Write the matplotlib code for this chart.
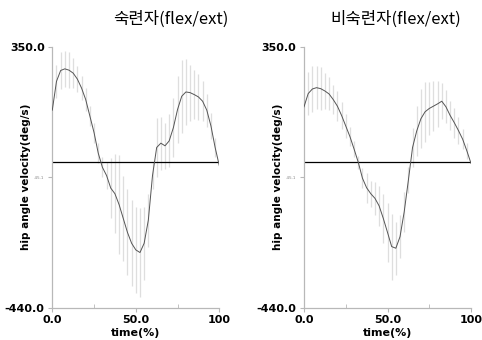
import matplotlib
matplotlib.use('Agg')
import matplotlib.pyplot as plt
import numpy as np

# time points (% of cycle)
time_pct = [0, 2.5, 5, 7.5, 10, 12.5, 15, 17.5, 20, 22.5, 25, 27.5, 30, 32.5, 35, 37.5, 40,
            42.5, 45, 47.5, 50, 52.5, 55, 57.5, 60, 62.5, 65, 67.5, 70, 72.5, 75, 77.5, 80,
            82.5, 85, 87.5, 90, 92.5, 95, 97.5, 100]

# skilled group (숙련자) mean / sd
skilled_mean = [158, 245, 278, 283, 279, 270, 252, 225, 190, 140, 90, 28, -15, -40, -78, -95, -128,
                -170, -212, -245, -265, -273, -245, -175, -40, 45, 58, 50, 65, 105, 160, 200, 213,
                211, 205, 198, 185, 158, 110, 45, -10]
skilled_sd = [0, 50, 55, 55, 55, 45, 40, 35, 35, 30, 30, 30, 30, 40, 90, 120, 150,
              130, 130, 130, 130, 135, 110, 80, 40, 90, 80, 70, 80, 90, 100, 110, 100,
              85, 75, 70, 60, 50, 40, 30, 0]

# unskilled group (비숙련자) mean / sd
unskilled_mean = [168, 208, 222, 226, 223, 216, 207, 190, 170, 142, 110, 78, 40, 0, -48, -77, -95,
                  -109, -132, -170, -212, -255, -260, -225, -150, -54, 45, 95, 132, 153, 163, 170, 177,
                  185, 168, 142, 120, 96, 70, 35, -3]
unskilled_sd = [0, 65, 70, 65, 65, 55, 50, 45, 45, 40, 35, 30, 25, 20, 30, 45, 40,
                50, 60, 75, 90, 100, 80, 65, 60, 40, 60, 75, 90, 90, 80, 75, 70,
                55, 50, 45, 45, 40, 30, 25, 0]

titles = ['숙련자(flex/ext)', '비숙련자(flex/ext)']
y_min, y_max = -440.0, 350.0

W, H = 482, 340
fig = plt.figure(figsize=(W / 100, H / 100), dpi=100)

panels = [
    (52.3, skilled_mean, skilled_sd, titles[0], 171),
    (304.0, unskilled_mean, unskilled_sd, titles[1], 396),
]

for left_px, mean, sd, title, title_x in panels:
    ax = fig.add_axes([left_px / W, 1 - 307.7 / H, 167 / W, (307.7 - 46.7) / H])
    ax.errorbar(time_pct, mean, yerr=sd, fmt='none', ecolor='#dedede',
                elinewidth=0.9, capsize=0, zorder=1)
    ax.plot(time_pct, mean, color='#555555', lw=0.7, zorder=3)
    ax.axhline(0, color='black', lw=0.9, zorder=2)

    ax.set_xlim(0, 100)
    ax.set_ylim(y_min, y_max)
    for s in ['top', 'right']:
        ax.spines[s].set_visible(False)
    for s in ['left', 'bottom']:
        ax.spines[s].set_color('#b8b8b8')
        ax.spines[s].set_linewidth(0.9)

    ax.set_xticks([0, 50, 100])
    ax.set_xticklabels(['0.0', '50.0', '100'], fontsize=8, fontweight='bold')
    ax.set_xticks([25, 75], minor=True)
    ax.set_yticks([y_max, -45, y_min])
    ax.set_yticklabels(['350.0', '-45.1', '-440.0'], fontsize=8, fontweight='bold')
    ax.get_yticklabels()[1].set_fontsize(3)
    ax.get_yticklabels()[1].set_fontweight('normal')
    ax.get_yticklabels()[1].set_color('#888888')
    ax.tick_params(axis='both', which='both', color='#b8b8b8', length=3, pad=2.5)
    ax.tick_params(axis='x', which='minor', direction='in', length=3)

    ax.set_xlabel('time(%)', fontsize=8, fontweight='bold', labelpad=2)
    ax.set_ylabel('hip angle velocity(deg/s)', fontsize=7.5, fontweight='bold')
    ax.yaxis.set_label_coords(-0.125, 0.5)

    fig.text(title_x / W, 1 - 19 / H, title, ha='center', va='center', fontsize=12,
             family=['Noto Sans CJK KR', 'DejaVu Sans'])

fig.savefig('out.png', dpi=100)
